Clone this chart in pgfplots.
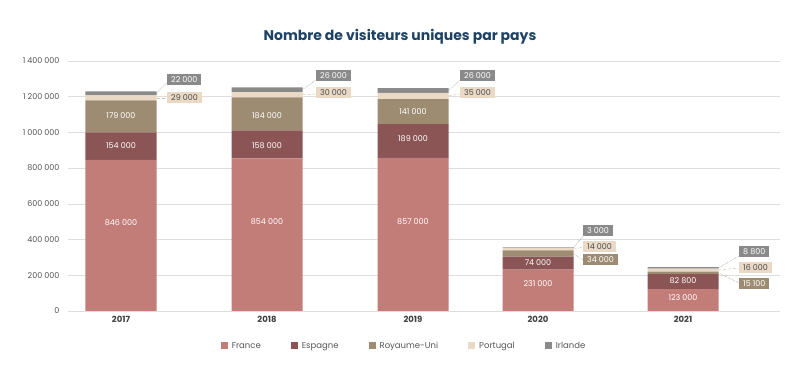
\documentclass[border=0pt]{standalone}
\usepackage{pgfplots}
\pgfplotsset{compat=1.18}
\usepackage{fontspec}
\setmainfont{Poppins}
\definecolor{cFr}{HTML}{C27D79}
\definecolor{cEs}{HTML}{8B5556}
\definecolor{cRU}{HTML}{9E8C72}
\definecolor{cPt}{HTML}{E9D9C5}
\definecolor{cIr}{HTML}{8A8A8A}
\definecolor{cTitle}{HTML}{1D4263}
\definecolor{cTick}{HTML}{555555}
\definecolor{cGrid}{HTML}{DDDDDD}
\newcommand{\ts}{\hspace{0.25em}}
\tikzset{
  inlab/.style={text=white, font=\fontsize{8}{9}\selectfont},
  box/.style={font=\fontsize{8}{9}\selectfont, inner xsep=4pt, inner ysep=1.5pt, minimum height=11pt, anchor=west},
  lead/.style={line width=0.5pt}
}
\begin{document}
\begin{tikzpicture}
\begin{axis}[
  scale only axis, width=712pt, height=250pt,
  xmin=68, xmax=780, ymin=0, ymax=1400000,
  ybar stacked, bar width=71,
  xtick={121,267,413,538,683},
  xticklabels={2017,2018,2019,2020,2021},
  ytick={0,200000,400000,600000,800000,1000000,1200000,1400000},
  scaled y ticks=false,
  yticklabel style={/pgf/number format/fixed, /pgf/number format/1000 sep={\ts}, /pgf/number format/assume math mode=true, font=\fontsize{8}{9}\selectfont, text=cTick, xshift=-5pt},
  xticklabel style={font=\fontsize{8.5}{10}\selectfont\bfseries, text=black!75, yshift=-2pt},
  axis line style={draw=none}, tick style={draw=none},
  ymajorgrids, grid style={cGrid, line width=0.6pt},
  legend columns=5,
  legend style={draw=none, fill=none, at={(0.472,-0.14)}, anchor=center,
    font=\fontsize{8.5}{10}\selectfont, text=cTick,
    /tikz/every even column/.append style={column sep=28pt}},
  legend image code/.code={\fill[#1] (0pt,-3.5pt) rectangle (7pt,3.5pt);},
]
\addplot[fill=cFr, draw=none] coordinates {(121,846000) (267,854000) (413,857000) (538,231000) (683,123000)};
\addlegendentry{\hspace{2pt}France}
\addplot[fill=cEs, draw=none] coordinates {(121,154000) (267,158000) (413,189000) (538,74000) (683,82800)};
\addlegendentry{\hspace{2pt}Espagne}
\addplot[fill=cRU, draw=none] coordinates {(121,179000) (267,184000) (413,141000) (538,34000) (683,15100)};
\addlegendentry{\hspace{2pt}Royaume-Uni}
\addplot[fill=cPt, draw=none] coordinates {(121,29000) (267,30000) (413,35000) (538,14000) (683,16000)};
\addlegendentry{\hspace{2pt}Portugal}
\addplot[fill=cIr, draw=none] coordinates {(121,22000) (267,26000) (413,26000) (538,3000) (683,8800)};
\addlegendentry{\hspace{2pt}Irlande}
\end{axis}
\begin{axis}[
  scale only axis, width=712pt, height=250pt,
  xmin=68, xmax=780, ymin=0, ymax=1400000,
  hide axis, clip=false,
]
\node[inlab] at (axis cs:121,492800) {846\ts000};
\node[inlab] at (axis cs:121,924000) {154\ts000};
\node[inlab] at (axis cs:121,1092000) {179\ts000};
\node[inlab] at (axis cs:267,498400) {854\ts000};
\node[inlab] at (axis cs:267,924000) {158\ts000};
\node[inlab] at (axis cs:267,1092000) {184\ts000};
\node[inlab] at (axis cs:413,498400) {857\ts000};
\node[inlab] at (axis cs:413,963200) {189\ts000};
\node[inlab] at (axis cs:413,1114400) {141\ts000};
\node[inlab] at (axis cs:538,151200) {231\ts000};
\node[inlab] at (axis cs:538,268800) {74\ts000};
\node[inlab] at (axis cs:683,72800) {123\ts000};
\node[inlab] at (axis cs:683,168000) {82\ts800};

\draw[lead, densely dotted, cIr] (axis cs:156.5,1219000) -- (axis cs:167,1280000);
\draw[lead, densely dashed, cPt!90!black] (axis cs:156.5,1193500) -- (axis cs:167,1193500);
\draw[lead, densely dotted, cIr] (axis cs:302.5,1239000) -- (axis cs:316,1294000);
\draw[lead, densely dashed, cPt!90!black] (axis cs:302.5,1211000) -- (axis cs:316,1215000);
\draw[lead, densely dotted, cIr] (axis cs:448.5,1235000) -- (axis cs:460,1294000);
\draw[lead, densely dashed, cPt!90!black] (axis cs:448.5,1204500) -- (axis cs:460,1215000);
\draw[lead, densely dotted, cIr] (axis cs:573.5,354500) -- (axis cs:583,420000);
\draw[lead, densely dashed, cPt!90!black] (axis cs:573.5,346000) -- (axis cs:583,358400);
\draw[lead, densely dotted, cRU] (axis cs:573.5,322000) -- (axis cs:583,285600);
\draw[lead, densely dotted, cIr] (axis cs:718.5,241300) -- (axis cs:739,308000);
\draw[lead, densely dashed, cPt!90!black] (axis cs:718.5,229300) -- (axis cs:739,240800);
\draw[lead, densely dotted, cRU] (axis cs:718.5,213650) -- (axis cs:739,156800);

\node[box, fill=cIr, text=white] at (axis cs:167,1293600) {22\ts000};
\node[box, fill=cPt, text=black!70] at (axis cs:167,1192800) {29\ts000};
\node[box, fill=cIr, text=white] at (axis cs:316,1316000) {26\ts000};
\node[box, fill=cPt, text=black!70] at (axis cs:316,1220800) {30\ts000};
\node[box, fill=cIr, text=white] at (axis cs:460,1316000) {26\ts000};
\node[box, fill=cPt, text=black!70] at (axis cs:460,1220800) {35\ts000};
\node[box, fill=cIr, text=white] at (axis cs:583,448000) {3\ts000};
\node[box, fill=cPt, text=black!70] at (axis cs:583,358400) {14\ts000};
\node[box, fill=cRU, text=white] at (axis cs:583,285600) {34\ts000};
\node[box, fill=cIr, text=white] at (axis cs:739,330400) {8\ts800};
\node[box, fill=cPt, text=black!70] at (axis cs:739,240800) {16\ts000};
\node[box, fill=cRU, text=white] at (axis cs:739,151200) {15\ts100};
\end{axis}
\node[font=\fontsize{14}{16}\selectfont\bfseries, text=cTitle] at (332pt,274pt) {Nombre de visiteurs uniques par pays};
\path[use as bounding box] (-68pt,-55pt) rectangle (732pt,311pt);
\end{tikzpicture}
\end{document}
